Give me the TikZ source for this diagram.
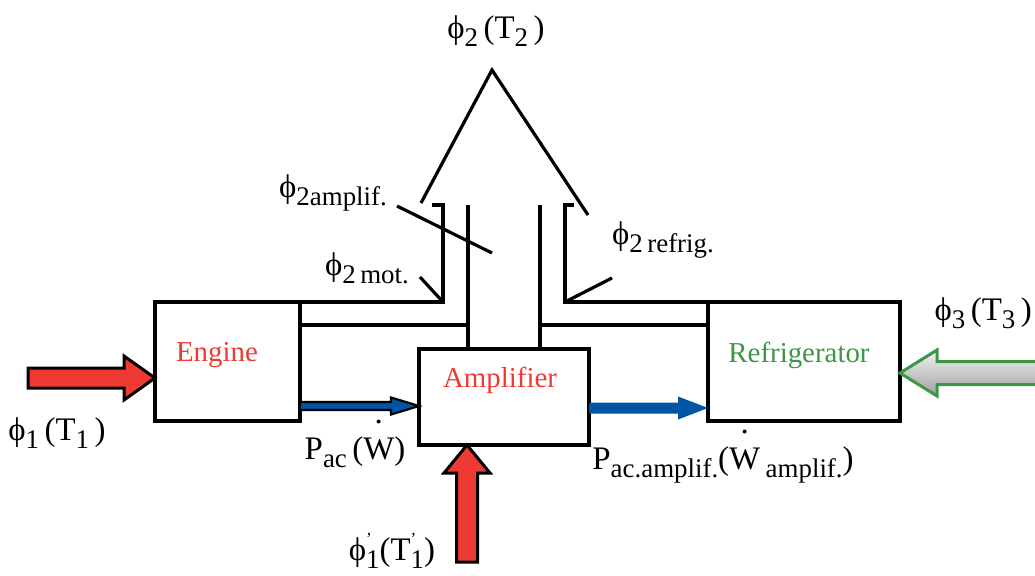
\documentclass[tikz,border=0pt]{standalone}
\usepackage{fontspec}
\setmainfont{Liberation Serif}
\usetikzlibrary{positioning, calc}

\definecolor{hotred}{RGB}{238,58,50}
\definecolor{workblue}{RGB}{0,85,165}
\definecolor{coldgreen}{RGB}{60,150,70}

% lowered subscript and dotted W
\newcommand{\sub}[1]{\raisebox{-0.25em}{\fontsize{27}{29}\selectfont #1}}
\newcommand{\wdot}[1]{\ooalign{#1\cr\hidewidth\raisebox{1.1em}{.}\hidewidth\cr}}
\newcommand{\prm}{\raisebox{0.5em}{\fontsize{17}{17}\selectfont '}}

% block arrow: style, tail, tip, half shaft, half head, head length
\newcommand{\fatarrow}[6]{%
  \coordinate (fa-h) at ($(#3)!#6!(#2)$);
  \path[#1] ($(#2)!#4!90:(#3)$) -- ($(fa-h)!#4!90:(#3)$) -- ($(fa-h)!#5!90:(#3)$) -- (#3)
    -- ($(fa-h)!#5!-90:(#3)$) -- ($(fa-h)!#4!-90:(#3)$) -- ($(#2)!#4!-90:(#3)$) -- cycle;
}

\begin{document}
\begin{tikzpicture}[
    x=1bp, y=-1bp,
    unit/.style={draw, line width=3.2bp, inner sep=0pt, outer sep=0pt},
    wall/.style={line width=3.2bp},
    lbl/.style={inner sep=0pt, font=\fontsize{33}{38}\selectfont},
    boxtext/.style={inner sep=0pt, font=\fontsize{29}{34}\selectfont},
    hotflow/.style={draw=black, line width=3bp, fill=hotred, line join=miter},
    workflow/.style={draw=black, line width=2.2bp, fill=workblue, line join=miter},
    ampflow/.style={fill=workblue},
    coldflow/.style={draw=coldgreen, line width=3bp, top color=gray!10, bottom color=gray!75, line join=miter}
]
\useasboundingbox (0,0) rectangle (1035,576);

% -------------------------
% Machines
% -------------------------
\node[unit, minimum width=145bp, minimum height=119bp] (engine) at (227.5,361.5) {};
\node[unit, minimum width=170bp, minimum height=96bp] (amp) at (504,397) {};
\node[unit, minimum width=192bp, minimum height=119bp] (refrig) at (804,361.5) {};

\node[boxtext, text=hotred] (engine-name) at (217,355) {Engine};
\node[boxtext, text=hotred] (amp-name) at (500,380) {Amplifier};
\node[boxtext, text=coldgreen] (refrig-name) at (799,355) {Refrigerator};

% -------------------------
% Heat channels to the top
% -------------------------
\coordinate (lwall) at (443,205);
\coordinate (lpipe) at (468,205);
\coordinate (rpipe) at (540,205);
\coordinate (rwall) at (565,205);
\coordinate (lin) at ([yshift=-23bp]engine.north east);
\coordinate (rin) at ([yshift=-23bp]refrig.north west);

\draw[wall] (engine.north east) -- (engine.north east -| lwall) -- (lwall) -- ++(-11,0);
\draw[wall] (refrig.north west) -- (refrig.north west -| rwall) -- (rwall) -- ++(9,0);
\draw[wall] (lin) -- (lin -| lpipe);
\draw[wall] (lpipe) -- (lpipe |- amp.north);
\draw[wall] (rin) -- (rin -| rpipe);
\draw[wall] (rpipe) -- (rpipe |- amp.north);

% big outgoing arrow head
\coordinate (tl) at (421,203);
\coordinate (apex) at (492,70);
\coordinate (tr) at (588,215);
\draw[wall, line join=miter] (tl) -- (apex) -- (tr);

% -------------------------
% Labels
% -------------------------
\node[lbl] (phi2) at (496,31) {ϕ\sub{2}\,(T\sub{2}\,)};
\node[lbl] (phi2-amp) at (333,193) {ϕ\sub{2amplif.}};
\node[lbl] (phi2-mot) at (367,268) {ϕ\sub{2\,mot.}};
\node[lbl] (phi2-ref) at (663,240) {ϕ\sub{2\,refrig.}};
\node[lbl, anchor=east] (phi3) at (1032,313) {ϕ\sub{3}\,(T\sub{3}\,)};
\node[lbl] (phi1) at (57,433) {ϕ\sub{1}\,(T\sub{1}\,)};
\node[lbl] (pac) at (355,452) {P\sub{ac}\,(\wdot{W})};
\node[lbl] (pac-amp) at (723,465) {P\sub{ac.amplif.}(\wdot{W}\,\sub{amplif.})};
\node[lbl] (phi1p) at (392,551) {ϕ\rlap{\prm}\sub{1}(T\rlap{\prm}\sub{1})};

% pointers from the labels
\coordinate (amp-tail) at (397,206);
\coordinate (amp-end) at (492,253);
\coordinate (mot-tail) at (420,277);
\coordinate (ref-tail) at (612,278);
\draw[wall] (amp-tail) -- (amp-end);
\draw[wall] (mot-tail) -- (engine.north east -| lwall);
\draw[wall] (ref-tail) -- (refrig.north west -| rwall);

% -------------------------
% Flows
% -------------------------
\coordinate (q1) at (28,378);
\coordinate (q1-tip) at (engine.west |- q1);
\fatarrow{hotflow}{q1}{q1-tip}{10bp}{22bp}{31bp}

\coordinate (q1b) at (467,562);
\coordinate (q1b-tip) at (amp.south -| q1b);
\fatarrow{hotflow}{q1b}{q1b-tip}{10.5bp}{23bp}{28bp}

\coordinate (w1) at ([yshift=-44.5bp]engine.east);
\coordinate (w1-tip) at (amp.west |- w1);
\fatarrow{workflow}{w1}{w1-tip}{4bp}{8.5bp}{28bp}

\coordinate (w2) at ([yshift=-11bp]amp.east);
\coordinate (w2-tip) at (refrig.west |- w2);
\fatarrow{ampflow}{w2}{w2-tip}{5.5bp}{11.5bp}{30bp}

\coordinate (q3) at (1045,373);
\coordinate (q3-tip) at (refrig.east |- q3);
\fatarrow{coldflow}{q3}{q3-tip}{11.5bp}{23bp}{37bp}

\end{tikzpicture}
\end{document}
